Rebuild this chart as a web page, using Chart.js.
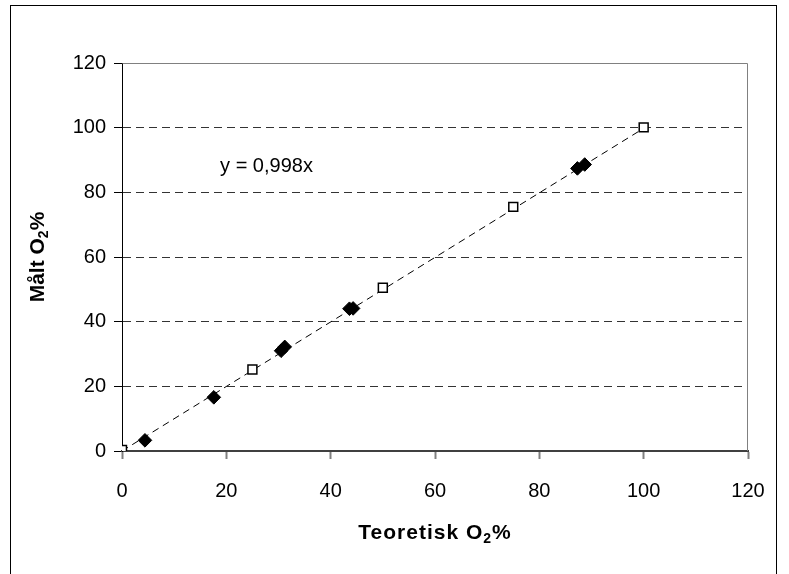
<!DOCTYPE html>
<html>
<head>
<meta charset="utf-8">
<script src="https://cdn.jsdelivr.net/npm/chart.js@4/dist/chart.umd.min.js"></script>
<style>
  html, body { margin: 0; padding: 0; background: #fff; overflow: hidden; }
  #wrap { position: relative; width: 789px; height: 574px; }
  #frame { position: absolute; left: 10px; top: 5px; width: 765px; height: 600px;
           border-left: 1px solid #000; border-top: 1px solid #000; border-right: 1px solid #000; }
  canvas { position: absolute; left: 0; top: 0; }
</style>
</head>
<body>
<div id="wrap">
  <div id="frame"></div>
  <canvas id="c" width="789" height="574"></canvas>
</div>
<script>
// Measured vs theoretical oxygen content
const filledX = [4.4, 17.6, 30.5, 31.2, 43.6, 44.3, 87.3, 88.7];
const filledY = [3.3, 16.6, 31.0, 32.2, 44.0, 44.1, 87.4, 88.6];
const openX = [0, 25, 50, 75, 100];
const openY = [0.3, 25.2, 50.5, 75.5, 100.1];
const trendSlope = 0.998;
const trendRange = [0, 100];
const axisTicks = [0, 20, 40, 60, 80, 100, 120];
const trendLabel = 'y = 0,998x';
// Axis titles as [text, subscript, text]
const xTitleParts = ['Teoretisk O', '2', '%'];
const yTitleParts = ['Målt O', '2', '%'];

const FONT = "'Liberation Sans', Arial, 'DejaVu Sans', sans-serif";

const toPoints = (xs, ys) => xs.map((x, i) => ({ x: x, y: ys[i] }));

// Draw a title with a lowered, smaller middle part, centred on (0,0)
function drawSubTitle(ctx, parts, size, spacing) {
  const big = 'bold ' + size + 'px ' + FONT;
  const small = 'bold ' + Math.round(size * 0.68) + 'px ' + FONT;
  ctx.letterSpacing = spacing + 'px';
  const fonts = [big, small, big];
  const widths = parts.map((p, i) => { ctx.font = fonts[i]; return ctx.measureText(p).width; });
  const total = widths.reduce((a, b) => a + b, 0);
  let x = -total / 2;
  ctx.textAlign = 'left';
  ctx.textBaseline = 'alphabetic';
  const base = size * 0.36;
  parts.forEach((p, i) => {
    ctx.font = fonts[i];
    ctx.fillText(p, x, base + (i === 1 ? size * 0.22 : 0));
    x += widths[i];
  });
  ctx.letterSpacing = '0px';
}

// Grey frame around the plot area, axis titles and the trendline equation
const plotDecor = {
  id: 'plotDecor',
  afterDatasetsDraw(chart, args, opts) {
    const { ctx, chartArea: a, scales } = chart;
    ctx.save();
    ctx.strokeStyle = '#808080';
    ctx.lineWidth = 1;
    ctx.beginPath();
    ctx.moveTo(Math.round(a.left) + 0.5, Math.round(a.top) + 0.5);
    ctx.lineTo(Math.round(a.right) - 0.5, Math.round(a.top) + 0.5);
    ctx.lineTo(Math.round(a.right) - 0.5, Math.round(a.bottom));
    ctx.stroke();

    ctx.fillStyle = '#000';
    ctx.font = '20px ' + FONT;
    ctx.textAlign = 'left';
    ctx.textBaseline = 'middle';
    ctx.fillText(opts.text, scales.x.getPixelForValue(opts.x), scales.y.getPixelForValue(opts.y));

    ctx.save();
    ctx.translate((a.left + a.right) / 2, opts.xTitleY);
    drawSubTitle(ctx, xTitleParts, 21, 1);
    ctx.restore();

    ctx.save();
    ctx.translate(opts.yTitleX, (a.top + a.bottom) / 2);
    ctx.rotate(-Math.PI / 2);
    drawSubTitle(ctx, yTitleParts, 21, 0);
    ctx.restore();

    ctx.restore();
  }
};

new Chart(document.getElementById('c'), {
  type: 'scatter',
  data: {
    datasets: [
      {
        label: 'trend',
        type: 'line',
        data: trendRange.map(x => ({ x: x, y: trendSlope * x })),
        borderColor: '#000',
        borderWidth: 1,
        borderDash: [7, 5],
        pointRadius: 0,
        fill: false,
        order: 3
      },
      {
        label: 'filled',
        data: toPoints(filledX, filledY),
        pointStyle: 'rectRot',
        pointRadius: 6.8,
        backgroundColor: '#000',
        borderColor: '#000',
        borderWidth: 1,
        order: 2
      },
      {
        label: 'open',
        data: toPoints(openX, openY),
        pointStyle: 'rect',
        pointRadius: 6.3,
        backgroundColor: '#fff',
        borderColor: '#000',
        borderWidth: 1.5,
        order: 1
      }
    ]
  },
  options: {
    responsive: false,
    animation: false,
    events: [],
    layout: { padding: { left: 0, top: 63, right: 41, bottom: 0 } },
    plugins: {
      legend: { display: false },
      tooltip: { enabled: false },
      plotDecor: { text: trendLabel, x: 18.8, y: 88, xTitleY: 531, yTitleX: 36 }
    },
    scales: {
      x: {
        type: 'linear',
        min: 0, max: 120,
        afterFit(s) { s.height = 123; },
        afterBuildTicks(s) { s.ticks = axisTicks.map(v => ({ value: v })); },
        ticks: { color: '#000', font: { family: FONT, size: 20 }, padding: 20, maxRotation: 0 },
        grid: { drawOnChartArea: false, tickLength: 8, tickColor: '#808080', tickWidth: 2 },
        border: { display: true, color: '#404040', width: 2 },
        title: { display: false }
      },
      y: {
        type: 'linear',
        min: 0, max: 120,
        afterFit(s) { s.width = 122; },
        afterBuildTicks(s) { s.ticks = axisTicks.map(v => ({ value: v })); },
        ticks: { color: '#000', font: { family: FONT, size: 20 }, padding: 8 },
        grid: {
          color: c => (c.tick && (c.tick.value === 0 || c.tick.value === 120)) ? 'rgba(0,0,0,0)' : '#333',
          lineWidth: 1,
          tickLength: 8,
          tickColor: '#000',
          tickBorderDash: []
        },
        border: { display: true, color: '#000', width: 1, dash: [8, 5] },
        title: { display: false }
      }
    }
  },
  plugins: [plotDecor]
});
</script>
</body>
</html>
